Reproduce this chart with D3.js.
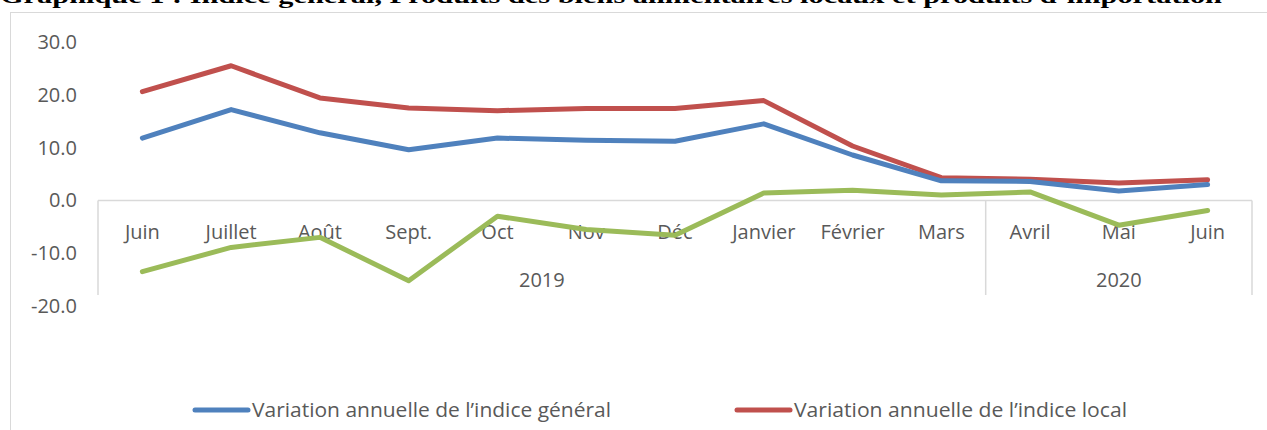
<!DOCTYPE html>
<html>
<head>
<meta charset="utf-8">
<script src="https://cdn.jsdelivr.net/npm/d3@7"></script>
<style>
  body { margin: 0; background: #fff; }
  svg { display: block; }
</style>
</head>
<body>
<svg width="1267" height="430"></svg>
<script>
// categories (two-level axis)
var months = ["Juin", "Juillet", "Août", "Sept.", "Oct", "Nov", "Déc", "Janvier", "Février", "Mars", "Avril", "Mai", "Juin"];
var years = [{label: "2019", from: 0, to: 9}, {label: "2020", from: 10, to: 12}];

// series values (annual variation, %)
var general = [11.8, 17.2, 12.8, 9.6, 11.8, 11.4, 11.2, 14.5, 8.6, 3.7, 3.6, 1.8, 3.0];
var local = [20.6, 25.5, 19.4, 17.5, 17.0, 17.4, 17.4, 18.9, 10.3, 4.3, 4.0, 3.3, 3.9];
var imported = [-13.5, -8.9, -7.0, -15.2, -3.0, -5.5, -6.6, 1.4, 1.9, 1.0, 1.6, -4.7, -1.9];

var yTicks = [-20, -10, 0, 10, 20, 30];

var series = [
  {name: "Variation annuelle de l\u2019indice général", values: general, color: "#4F81BD", legend: true},
  {name: "Variation annuelle de l\u2019indice local", values: local, color: "#C0504D", legend: true},
  {name: "Variation annuelle de l\u2019indice des produits importés", values: imported, color: "#9BBB59", legend: false}
];

var svg = d3.select("svg"),
    width = +svg.attr("width"),
    height = +svg.attr("height");

var font = "'Open Sans', sans-serif";

// cut-off title above the frame
svg.append("text")
    .attr("x", 0)
    .attr("y", 3)
    .attr("font-family", "'Liberation Serif', 'Times New Roman', serif")
    .attr("font-weight", "bold")
    .attr("font-size", 21)
    .attr("textLength", 1222)
    .attr("lengthAdjust", "spacingAndGlyphs")
    .text("Graphique 1 : Indice général, Produits des biens alimentaires locaux et produits d\u2019importation");

// chart frame
svg.append("rect")
    .attr("x", 10.5).attr("y", 12.5)
    .attr("width", width).attr("height", height)
    .attr("fill", "#fff")
    .attr("stroke", "#d9d9d9");

var x = d3.scalePoint()
    .domain(d3.range(months.length))
    .range([98, 1252])
    .padding(0.5);

var step = x.step();

var y = d3.scaleLinear()
    .domain([-20, 30])
    .range([306, 42]);

// y axis labels
svg.append("g")
    .attr("font-family", font)
    .attr("font-size", 20)
    .attr("fill", "#595959")
    .attr("text-anchor", "end")
  .selectAll("text")
  .data(yTicks)
  .enter().append("text")
    .attr("x", 77)
    .attr("y", function(d) { return y(d); })
    .attr("dy", "0.35em")
    .text(function(d) { return d.toFixed(1); });

// category axis at zero
var axis = svg.append("g").attr("stroke", "#d9d9d9").attr("stroke-width", 1.5);
axis.append("line")
    .attr("x1", 98).attr("x2", 1252)
    .attr("y1", y(0)).attr("y2", y(0));

var dividers = [0, 10, 13];
axis.selectAll("line.div")
  .data(dividers)
  .enter().append("line")
    .attr("class", "div")
    .attr("x1", function(d) { return x(0) - step / 2 + d * step; })
    .attr("x2", function(d) { return x(0) - step / 2 + d * step; })
    .attr("y1", y(0))
    .attr("y2", 295);

var labels = svg.append("g")
    .attr("font-family", font)
    .attr("font-size", 20)
    .attr("fill", "#595959")
    .attr("text-anchor", "middle");

labels.selectAll("text.month")
  .data(months)
  .enter().append("text")
    .attr("class", "month")
    .attr("x", function(d, i) { return x(i); })
    .attr("y", 239)
    .text(function(d) { return d; });

labels.selectAll("text.year")
  .data(years)
  .enter().append("text")
    .attr("class", "year")
    .attr("x", function(d) { return (x(d.from) + x(d.to)) / 2; })
    .attr("y", 287)
    .text(function(d) { return d.label; });

// lines
var line = d3.line()
    .x(function(d, i) { return x(i); })
    .y(function(d) { return y(d); });

svg.append("g")
    .attr("fill", "none")
    .attr("stroke-width", 5)
    .attr("stroke-linecap", "round")
    .attr("stroke-linejoin", "round")
  .selectAll("path")
  .data(series.slice().reverse())
  .enter().append("path")
    .attr("stroke", function(d) { return d.color; })
    .attr("d", function(d) { return line(d.values); });

// legend
var legendX = [193, 735];
var legendW = [359, 333];
var legend = svg.append("g")
    .attr("font-family", font)
    .attr("font-size", 20)
    .attr("fill", "#595959")
  .selectAll("g")
  .data(series.filter(function(d) { return d.legend; }))
  .enter().append("g")
    .attr("transform", function(d, i) { return "translate(" + legendX[i] + ",410)"; });

legend.append("line")
    .attr("x1", 2).attr("x2", 55)
    .attr("stroke", function(d) { return d.color; })
    .attr("stroke-width", 5)
    .attr("stroke-linecap", "round");

legend.append("text")
    .attr("x", 59)
    .attr("dy", "0.35em")
    .attr("textLength", function(d, i) { return legendW[i]; })
    .attr("lengthAdjust", "spacingAndGlyphs")
    .text(function(d) { return d.name; });
</script>
</body>
</html>
